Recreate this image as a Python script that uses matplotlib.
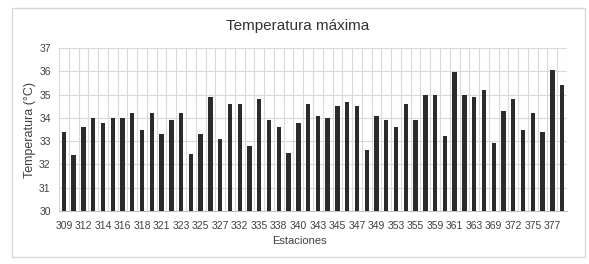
import matplotlib
matplotlib.use("Agg")
import matplotlib.pyplot as plt
from matplotlib.patches import Rectangle
import numpy as np

plt.rcParams['font.family'] = ['Liberation Sans', 'DejaVu Sans']

stations = ["309", "", "312", "", "314", "", "316", "", "318", "", "321", "", "323", "",
            "325", "", "327", "", "332", "", "335", "", "338", "", "340", "", "343", "",
            "345", "", "347", "", "349", "", "353", "", "355", "", "359", "", "361", "",
            "363", "", "369", "", "372", "", "375", "", "377", ""]
temps = [33.4, 32.4, 33.6, 34.0, 33.8, 34.0, 34.0, 34.2, 33.5, 34.2,
         33.3, 33.9, 34.2, 32.45, 33.3, 34.9, 33.1, 34.6, 34.6, 32.8,
         34.8, 33.9, 33.6, 32.5, 33.8, 34.6, 34.1, 34.0, 34.5, 34.7,
         34.5, 32.6, 34.1, 33.9, 33.6, 34.6, 33.9, 35.0, 35.0, 33.2,
         35.95, 35.0, 34.9, 35.2, 32.9, 34.3, 34.8, 33.5, 34.2, 33.4,
         36.05, 35.4]
yticks = [30, 31, 32, 33, 34, 35, 36, 37]

fig = plt.figure(figsize=(5.89, 2.64), dpi=100)
fig.patches.append(Rectangle((12/589, 1 - 257/264), (585-12)/589, (257-8)/264,
                             transform=fig.transFigure, fill=False,
                             edgecolor='#d9d9d9', linewidth=1.0))
ax = fig.add_axes([59/589, 1 - 211/264, (567-59)/589, (211-48)/264])

n = len(temps)
x = np.arange(n)
ax.bar(x, [t - 30 for t in temps], bottom=30, width=0.45, color='#2b2b2b', zorder=3)
ax.set_xlim(-0.5, n - 0.5)
ax.set_ylim(30, 37)
ax.set_yticks(yticks)
ax.set_yticklabels([str(v) for v in yticks], fontsize=7.5, color='#404040')
ax.set_xticks(x)
ax.set_xticklabels(stations, fontsize=7.5, color='#404040')
ax.tick_params(axis='x', length=0, pad=7)
ax.tick_params(axis='y', length=0, pad=6)
for b in np.arange(n + 1) - 0.5:
    ax.axvline(b, color='#d9d9d9', linewidth=0.8, zorder=1)
ax.grid(axis='y', color='#d9d9d9', linewidth=0.8, zorder=1)
for s in ['top', 'right', 'left']:
    ax.spines[s].set_visible(False)
ax.spines['bottom'].set_color('#bfbfbf')
fig.text(298/589, 1 - 26/264, "Temperatura máxima", fontsize=11, color='#333333',
         ha='center', va='center')
fig.text(299/589, 1 - 241/264, "Estaciones", fontsize=8, color='#404040',
         ha='center', va='center')
ax.set_ylabel("Temperatura (°C)", fontsize=9, color='#404040', labelpad=2)

fig.savefig("out.png", dpi=100)
